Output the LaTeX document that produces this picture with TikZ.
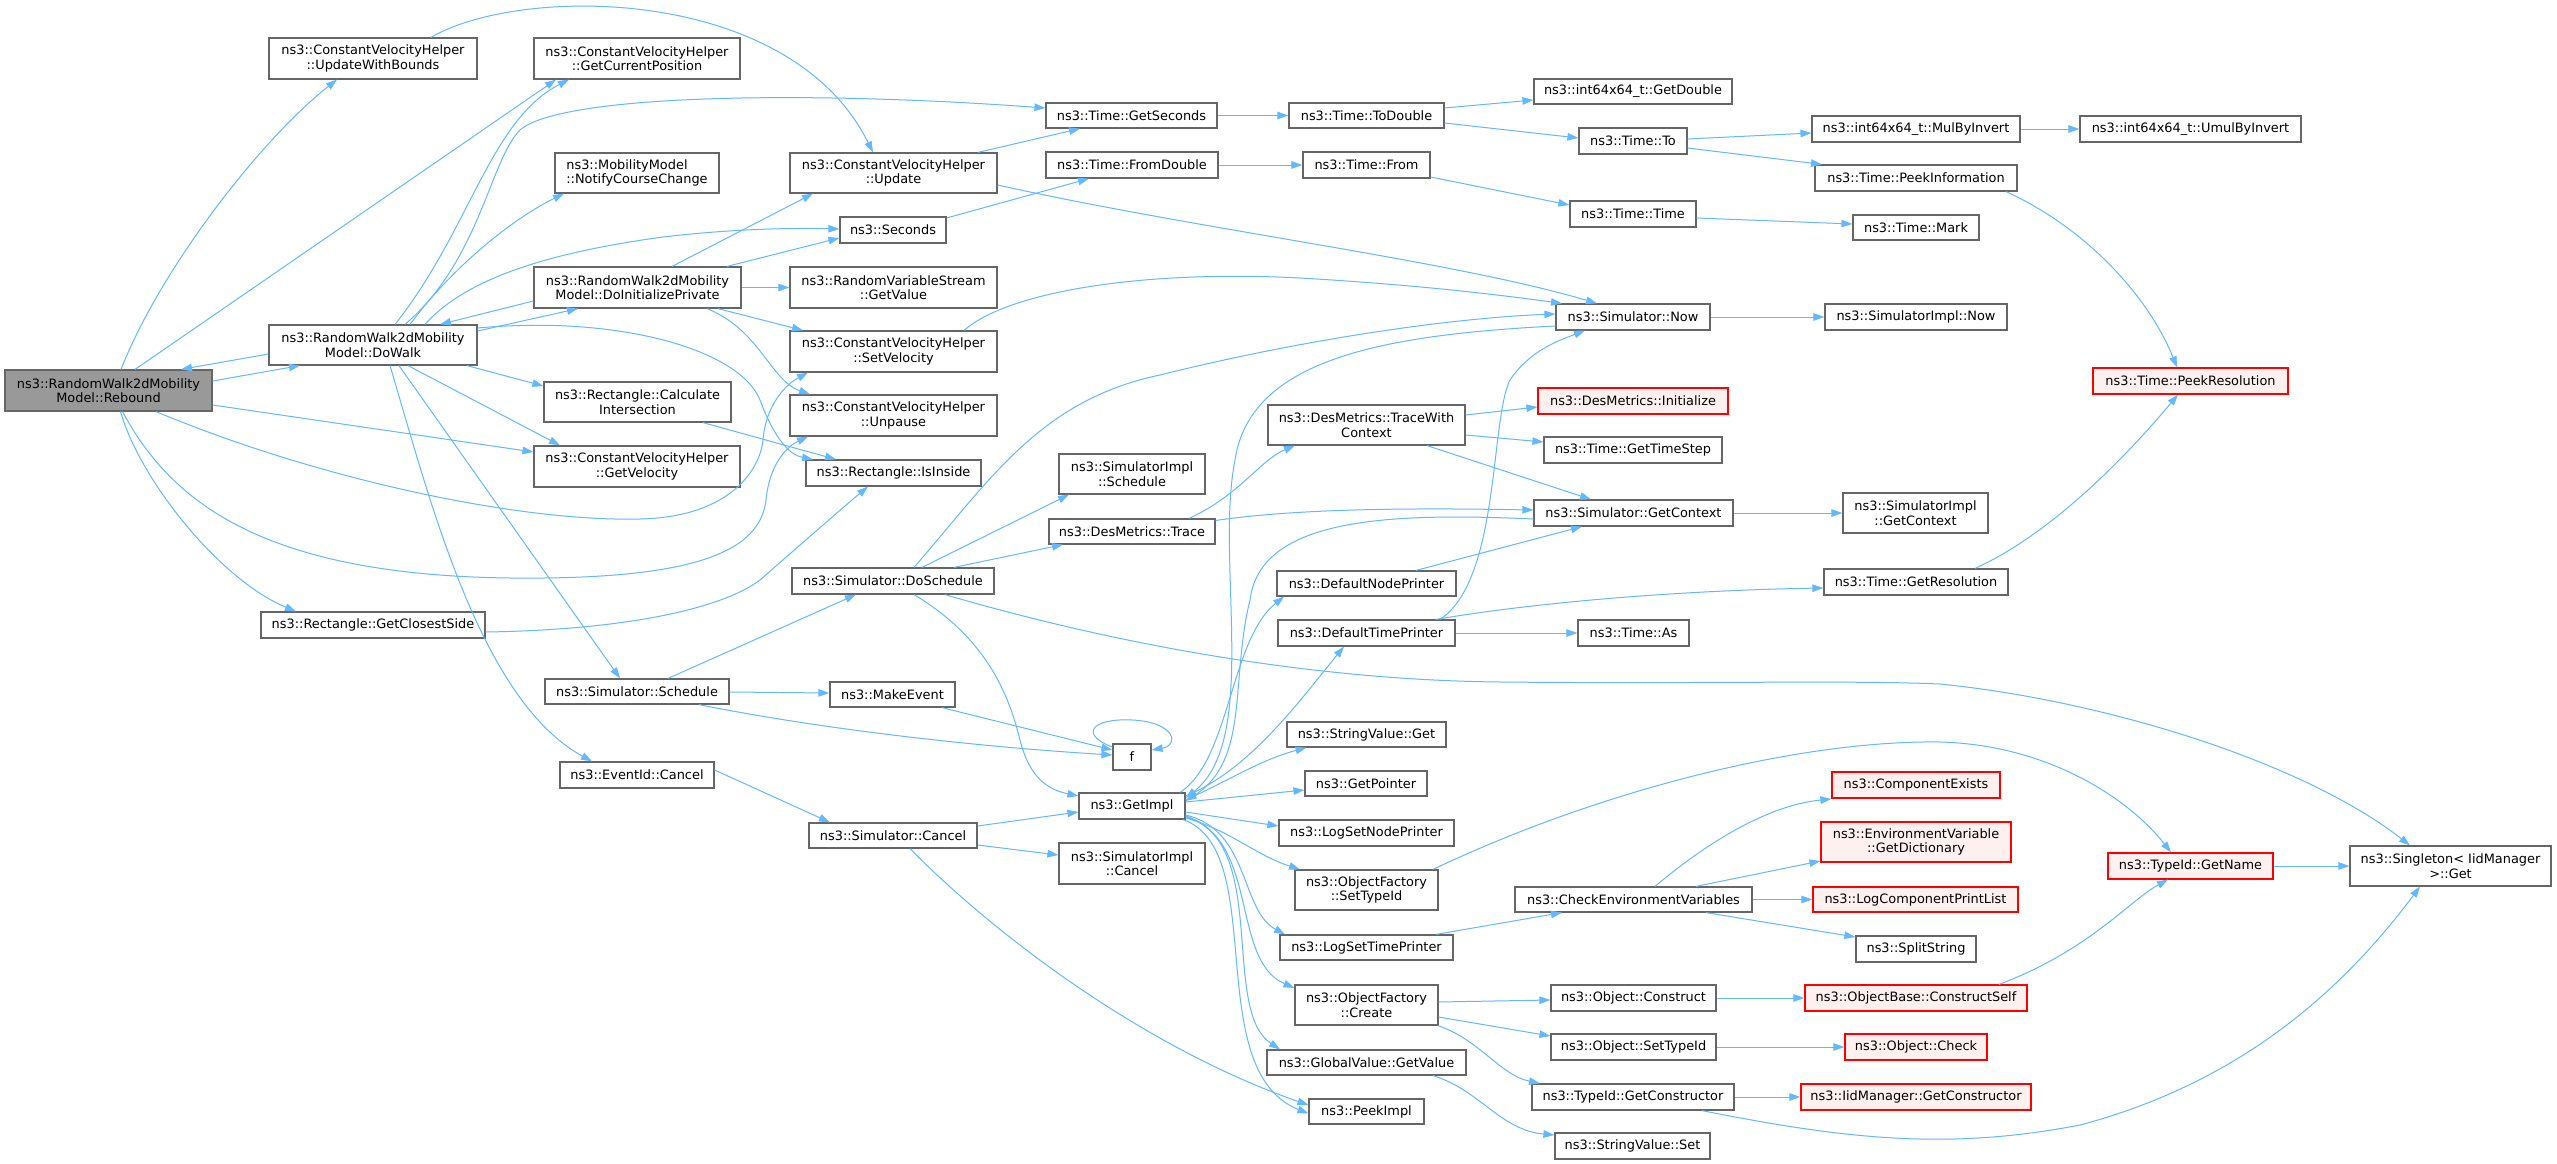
\documentclass[tikz,border=0pt]{standalone}
\usepackage{fontspec}
\setmainfont{DejaVu Sans}
\usetikzlibrary{arrows.meta}
\definecolor{edgec}{HTML}{63B8FF}
\definecolor{boxc}{HTML}{666666}
\definecolor{rootc}{HTML}{999999}
\definecolor{redfill}{HTML}{FFF0F0}
\definecolor{redline}{HTML}{FF0000}
\tikzset{
  nbox/.style={draw=boxc, line width=1.2pt, fill=white, inner sep=0pt, align=center, text=black,
    font={\fontsize{12.9}{14.5}\selectfont}},
  rootbox/.style={nbox, fill=rootc},
  redbox/.style={nbox, draw=redline, fill=redfill},
  e/.style={draw=edgec, line width=1pt, -{Triangle[length=11pt,width=7.5pt]}},
}
\newcommand\NB[7][nbox]{\node[#1, minimum width=#5pt, minimum height=#6pt] (#2) at (#3,#4) {#7};}
\begin{document}
\begin{tikzpicture}[x=1pt,y=-1pt]
\fill[white] (0,0) rectangle (2557,1164);
\useasboundingbox (0,0) rectangle (2557,1164);
% ---- nodes
\NB[rootbox]{rebound}{108.5}{390.5}{207}{41}{ns3::RandomWalk2dMobility\\Model::Rebound}
\NB{uwb}{373}{58.5}{208}{41}{ns3::ConstantVelocityHelper\\::UpdateWithBounds}
\NB{gcp}{637}{58.5}{206}{41}{ns3::ConstantVelocityHelper\\::GetCurrentPosition}
\NB[nbox,align=left]{ncc}{637}{173}{164}{40}{ns3::MobilityModel\\::NotifyCourseChange}
\NB{dip}{637.5}{287.5}{207}{41}{ns3::RandomWalk2dMobility\\Model::DoInitializePrivate}
\NB{dowalk}{373}{345}{208}{40}{ns3::RandomWalk2dMobility\\Model::DoWalk}
\NB{calc}{637.5}{402}{187}{40}{ns3::Rectangle::Calculate\\Intersection}
\NB{gvel}{637}{466.5}{206}{41}{ns3::ConstantVelocityHelper\\::GetVelocity}
\NB{gcs}{373}{625}{224}{26}{ns3::Rectangle::GetClosestSide}
\NB{sched}{637}{691.5}{184}{25}{ns3::Simulator::Schedule}
\NB{evc}{637}{775}{154}{26}{ns3::EventId::Cancel}
\NB{gsec}{1131.5}{115.5}{171}{25}{ns3::Time::GetSeconds}
\NB{todbl}{1366.5}{115.5}{155}{25}{ns3::Time::ToDouble}
\NB{getdbl}{1633}{91.5}{198}{25}{ns3::int64x64\_t::GetDouble}
\NB{to}{1633}{141}{108}{26}{ns3::Time::To}
\NB{upd}{893.5}{173}{207}{40}{ns3::ConstantVelocityHelper\\::Update}
\NB{fromdbl}{1132}{165}{172}{26}{ns3::Time::FromDouble}
\NB{from}{1366.5}{165}{127}{26}{ns3::Time::From}
\NB{ttime}{1633}{214}{126}{26}{ns3::Time::Time}
\NB{secs}{893}{230}{106}{26}{ns3::Seconds}
\NB{rvs}{893.5}{287.5}{207}{41}{ns3::RandomVariableStream\\::GetValue}
\NB{svel}{893.5}{351.5}{207}{41}{ns3::ConstantVelocityHelper\\::SetVelocity}
\NB{unp}{893.5}{415.5}{207}{41}{ns3::ConstantVelocityHelper\\::Unpause}
\NB{now}{1633}{317}{154}{26}{ns3::Simulator::Now}
\NB{mulinv}{1916}{129}{208}{26}{ns3::int64x64\_t::MulByInvert}
\NB{umul}{2190.5}{129}{221}{26}{ns3::int64x64\_t::UmulByInvert}
\NB{peekinfo}{1916}{178}{202}{26}{ns3::Time::PeekInformation}
\NB{mark}{1916}{227.5}{126}{25}{ns3::Time::Mark}
\NB{simpnow}{1916}{317}{182}{26}{ns3::SimulatorImpl::Now}
\NB[redbox]{peekres}{2190.5}{381}{195}{26}{ns3::Time::PeekResolution}
\NB[redbox]{dminit}{1633}{401}{190}{26}{ns3::DesMetrics::Initialize}
\NB{isin}{893.5}{473}{175}{26}{ns3::Rectangle::IsInside}
\NB{simpsched}{1132}{474}{146}{40}{ns3::SimulatorImpl\\::Schedule}
\NB{trace}{1132}{531.5}{166}{25}{ns3::DesMetrics::Trace}
\NB{dosched}{893}{581}{202}{26}{ns3::Simulator::DoSchedule}
\NB{twc}{1366.5}{425}{197}{40}{ns3::DesMetrics::TraceWith\\Context}
\NB{gts}{1633}{450}{178}{26}{ns3::Time::GetTimeStep}
\NB{gctx}{1633.5}{513}{199}{26}{ns3::Simulator::GetContext}
\NB{simpgctx}{1915.5}{513}{145}{40}{ns3::SimulatorImpl\\::GetContext}
\NB{dnp}{1366.5}{583.5}{179}{25}{ns3::DefaultNodePrinter}
\NB{dtp}{1366.5}{633}{177}{26}{ns3::DefaultTimePrinter}
\NB{gres}{1916}{582}{184}{26}{ns3::Time::GetResolution}
\NB{tas}{1633.5}{633}{111}{26}{ns3::Time::As}
\NB{mkev}{892.5}{694.5}{125}{25}{ns3::MakeEvent}
\NB{f}{1132}{757}{38}{26}{f}
\NB{svget}{1366.5}{734.5}{159}{25}{ns3::StringValue::Get}
\NB{gptr}{1366}{783.5}{122}{25}{ns3::GetPointer}
\NB{getimpl}{1132}{806}{106}{26}{ns3::GetImpl}
\NB{scancel}{893}{835.5}{168}{25}{ns3::Simulator::Cancel}
\NB{simpcancel}{1132}{863.5}{146}{41}{ns3::SimulatorImpl\\::Cancel}
\NB{lsnp}{1366.5}{833}{175}{26}{ns3::LogSetNodePrinter}
\NB{ofst}{1366.5}{890}{143}{40}{ns3::ObjectFactory\\::SetTypeId}
\NB{lstp}{1366.5}{947.5}{173}{25}{ns3::LogSetTimePrinter}
\NB{ofc}{1366.5}{1005}{143}{40}{ns3::ObjectFactory\\::Create}
\NB{gvget}{1366.5}{1062.5}{199}{25}{ns3::GlobalValue::GetValue}
\NB{peekimpl}{1366.5}{1111.5}{115}{25}{ns3::PeekImpl}
\NB{cev}{1633.5}{899.5}{237}{25}{ns3::CheckEnvironmentVariables}
\NB[redbox]{compex}{1916}{785}{168}{26}{ns3::ComponentExists}
\NB[redbox]{envdict}{1916}{842}{190}{40}{ns3::EnvironmentVariable\\::GetDictionary}
\NB[redbox]{lcpl}{1915.5}{899.5}{205}{25}{ns3::LogComponentPrintList}
\NB{split}{1916}{949}{120}{26}{ns3::SplitString}
\NB{oconstruct}{1633.5}{998}{165}{26}{ns3::Object::Construct}
\NB[redbox]{cself}{1916}{998}{222}{26}{ns3::ObjectBase::ConstructSelf}
\NB{osettid}{1633.5}{1047}{165}{26}{ns3::Object::SetTypeId}
\NB[redbox]{ocheck}{1916}{1047}{142}{26}{ns3::Object::Check}
\NB{tidgc}{1633}{1097}{202}{26}{ns3::TypeId::GetConstructor}
\NB[redbox]{iidgc}{1916}{1097}{230}{26}{ns3::IidManager::GetConstructor}
\NB{svset}{1632.5}{1146}{155}{26}{ns3::StringValue::Set}
\NB[redbox]{tidname}{2190.5}{866}{165}{26}{ns3::TypeId::GetName}
\NB{singleton}{2450.5}{866}{201}{40}{ns3::Singleton< IidManager\\>::Get}
% ---- edges: Rebound
\draw[e] ([xshift=12.5pt]rebound.north) .. controls (160,270) and (260,140) .. ([xshift=-36pt]uwb.south);
\draw[e] ([xshift=26.5pt]rebound.north) -- ([xshift=-81pt]gcp.south);
\draw[e] ([yshift=9.5pt]rebound.east) -- ([xshift=-73pt]dowalk.south);
\draw[e] ([yshift=-9pt]dowalk.west) -- ([xshift=72.5pt]rebound.north);
\draw[e] ([yshift=-14.5pt]rebound.east) -- ([yshift=14.5pt]gvel.west);
\draw[e] ([xshift=12pt]rebound.south) .. controls (140,480) and (220,580) .. ([xshift=-77pt]gcs.north);
\draw[e] ([xshift=47.5pt]rebound.south) .. controls (320,480) and (520,522) .. (640,519) .. controls (730,517) and (760,470) .. (763,440) .. controls (766,405) and (785,385) .. ([xshift=-85.5pt]svel.south);
\draw[e] ([xshift=14pt]rebound.south) .. controls (170,500) and (260,575) .. (510,578) .. controls (700,580) and (760,550) .. (766,500) .. controls (770,460) and (790,445) .. ([xshift=-85.5pt]unp.south);
% DoWalk
\draw[e] ([xshift=22pt]dowalk.north) .. controls (470,230) and (490,120) .. ([xshift=-68pt]gcp.south);
\draw[e] ([xshift=32pt]dowalk.north) .. controls (480,260) and (490,160) .. (520,130) .. controls (560,95) and (800,90) .. ([yshift=7.5pt]gsec.west);
\draw[e] ([xshift=37pt]dowalk.north) .. controls (450,270) and (510,220) .. ([xshift=-73pt]ncc.south);
\draw[e] ([xshift=52pt]dowalk.north) .. controls (460,285) and (530,255) .. (663,237) .. controls (740,228) and (800,228) .. ([yshift=1pt]secs.west);
\draw[e] ([yshift=14pt]dowalk.east) -- ([xshift=-59.5pt]dip.south);
\draw[e] ([yshift=-13.5pt]dip.west) -- ([xshift=67pt]dowalk.north);
\draw[e] ([yshift=17pt]dowalk.east) .. controls (620,315) and (740,350) .. (760,400) .. controls (775,440) and (790,455) .. ([xshift=-80.5pt]isin.north);
\draw[e] ([xshift=94pt]dowalk.south) -- ([yshift=16pt]calc.west);
\draw[e] ([xshift=35pt]dowalk.south) -- ([xshift=-77pt]gvel.north);
\draw[e] ([xshift=17pt]dowalk.south) .. controls (430,500) and (480,700) .. ([xshift=-45pt]evc.north);
\draw[e] ([xshift=26pt]dowalk.south) -- ([xshift=-17pt]sched.north);
% helpers
\draw[e] ([xshift=58pt]uwb.north) .. controls (520,-15) and (790,-15) .. ([xshift=-20.5pt]upd.north);
\draw[e] ([xshift=84.5pt]upd.north) -- ([xshift=-51.5pt]gsec.south);
\draw[e] ([yshift=-12pt]upd.east) .. controls (1200,230) and (1450,260) .. ([xshift=-36pt]now.north);
\draw[e] ([xshift=34.5pt]dip.north) -- ([xshift=-80.5pt]upd.south);
\draw[e] ([xshift=89.5pt]dip.north) -- ([yshift=-8pt]secs.west);
\draw[e] (dip.east) -- (rvs.west);
\draw[e] ([xshift=80.5pt]dip.south) -- ([xshift=-90.5pt]svel.north);
\draw[e] ([xshift=69.5pt]dip.south) .. controls (760,330) and (770,380) .. ([xshift=-83.5pt]unp.north);
\draw[e] ([yshift=-7pt]gcs.east) .. controls (620,630) and (720,610) .. (760,580) .. controls (800,545) and (840,510) .. ([xshift=-25.5pt]isin.south);
\draw[e] ([xshift=65.5pt]calc.south) -- ([xshift=-57.5pt]isin.north);
% time
\draw[e] ([yshift=12pt]secs.east) -- ([xshift=-43pt]fromdbl.south);
\draw[e] (gsec.east) -- (todbl.west);
\draw[e] ([yshift=7.5pt]todbl.east) -- ([yshift=-8.5pt]getdbl.west);
\draw[e] ([yshift=-7.5pt]todbl.east) -- ([yshift=3pt]to.west);
\draw[e] ([yshift=2pt]to.east) -- ([yshift=-4pt]mulinv.west);
\draw[e] ([yshift=-7pt]to.east) -- ([xshift=-94pt]peekinfo.north);
\draw[e] (mulinv.east) -- (umul.west);
\draw[e] (fromdbl.east) -- (from.west);
\draw[e] ([yshift=-12pt]from.east) -- ([yshift=9pt]ttime.west);
\draw[e] ([yshift=-4pt]ttime.east) -- ([yshift=3.5pt]mark.west);
\draw[e] (now.east) -- (simpnow.west);
\draw[e] ([xshift=90pt]peekinfo.south) .. controls (2090,230) and (2150,300) .. ([xshift=-13.5pt]peekres.north);
\draw[e] ([xshift=59pt]gres.north) .. controls (2060,530) and (2140,440) .. ([xshift=-12.5pt]peekres.south);
\draw[e] ([xshift=70.5pt]svel.north) .. controls (1010,290) and (1150,270) .. (1300,278) .. controls (1420,285) and (1500,295) .. ([xshift=-71pt]now.north);
% simulator
\draw[e] ([xshift=21pt]dosched.north) .. controls (990,480) and (1040,400) .. (1160,375) .. controls (1300,340) and (1450,318) .. ([yshift=3pt]now.west);
\draw[e] ([xshift=73.5pt]dtp.north) .. controls (1500,580) and (1490,420) .. (1510,380) .. controls (1530,350) and (1560,340) .. ([xshift=-48pt]now.south);
\draw[e] ([yshift=-9pt]now.west) .. controls (1380,335) and (1250,360) .. (1235,460) .. controls (1215,560) and (1260,740) .. ([yshift=8pt]getimpl.east);
\draw[e] ([yshift=-6pt]gctx.west) .. controls (1380,512) and (1260,520) .. (1250,600) .. controls (1230,680) and (1250,760) .. ([yshift=5pt]getimpl.east);
\draw[e] ([xshift=29pt]dosched.north) -- ([xshift=-63pt]simpsched.south);
\draw[e] ([xshift=61pt]dosched.north) -- ([xshift=-69pt]trace.south);
\draw[e] ([xshift=21pt]dosched.south) .. controls (990,640) and (1010,700) .. (1020,740) .. controls (1030,780) and (1050,790) .. ([yshift=10pt]getimpl.west);
\draw[e] ([xshift=52pt]dosched.south) .. controls (1100,640) and (1300,680) .. (1500,682) .. controls (1700,684) and (1850,680) .. (1940,684) .. controls (2100,700) and (2300,760) .. ([xshift=-40.5pt]singleton.north);
\draw[e] ([xshift=57pt]trace.north) .. controls (1240,495) and (1260,460) .. ([xshift=-71.5pt]twc.south);
\draw[e] ([yshift=11pt]trace.east) .. controls (1300,508) and (1420,508) .. ([yshift=3pt]gctx.west);
\draw[e] ([yshift=10pt]twc.east) -- ([yshift=-6pt]dminit.west);
\draw[e] ([yshift=-10pt]twc.east) -- ([yshift=8pt]gts.west);
\draw[e] ([xshift=60.5pt]twc.south) -- ([xshift=-42.5pt]gctx.north);
\draw[e] (gctx.east) -- (simpgctx.west);
\draw[e] ([xshift=49.5pt]dnp.north) -- ([xshift=-51.5pt]gctx.south);
\draw[e] ([xshift=69.5pt]dtp.north) .. controls (1550,600) and (1700,590) .. ([yshift=-6pt]gres.west);
\draw[e] (dtp.east) -- (tas.west);
\draw[e] ([xshift=31pt]sched.north) -- ([xshift=-37pt]dosched.south);
\draw[e] ([yshift=-0.5pt]sched.east) -- ([yshift=1.5pt]mkev.west);
\draw[e] ([xshift=62pt]sched.south) .. controls (800,725) and (950,745) .. ([yshift=2pt]f.west);
\draw[e] ([xshift=49.5pt]mkev.south) -- ([yshift=7pt]f.west);
\draw[e] ([yshift=10pt]f.west) .. controls (1080,735) and (1090,718) .. (1132,720) .. controls (1175,722) and (1180,745) .. ([yshift=7pt]f.east);
\draw[e] ([yshift=5pt]evc.east) -- ([xshift=-63pt]scancel.north);
\draw[e] ([yshift=9.5pt]scancel.east) -- ([yshift=-6pt]getimpl.west);
\draw[e] ([yshift=-9.5pt]scancel.east) -- ([yshift=8.5pt]simpcancel.west);
\draw[e] ([xshift=17pt]scancel.south) .. controls (1000,940) and (1150,1050) .. ([yshift=6.5pt]peekimpl.west);
% GetImpl
\draw[e] ([xshift=48pt]getimpl.north) .. controls (1230,760) and (1230,640) .. ([xshift=-82.5pt]dnp.south);
\draw[e] ([yshift=10pt]getimpl.east) .. controls (1250,770) and (1300,700) .. ([xshift=-22.5pt]dtp.south);
\draw[e] ([yshift=6pt]getimpl.east) .. controls (1230,780) and (1260,760) .. ([xshift=-60pt]svget.south);
\draw[e] ([yshift=4pt]getimpl.east) -- ([yshift=-6.5pt]gptr.west);
\draw[e] ([yshift=-6pt]getimpl.east) -- ([yshift=7pt]lsnp.west);
\draw[e] ([yshift=-12pt]getimpl.east) .. controls (1230,830) and (1255,855) .. ([xshift=-66.5pt]ofst.north);
\draw[e] ([yshift=-9pt]getimpl.east) .. controls (1250,830) and (1240,910) .. ([xshift=-81.5pt]lstp.north);
\draw[e] ([yshift=-10pt]getimpl.east) .. controls (1260,840) and (1230,960) .. ([yshift=17pt]ofc.west);
\draw[e] ([yshift=-11pt]getimpl.east) .. controls (1270,840) and (1220,1010) .. ([xshift=-86.5pt]gvget.north);
\draw[e] ([xshift=51pt]getimpl.south) .. controls (1270,850) and (1200,1070) .. ([yshift=-2pt]peekimpl.west);
% object factory etc.
\draw[e] ([xshift=66.5pt]ofst.north) .. controls (1600,790) and (1800,740) .. (1940,742) .. controls (2050,745) and (2130,800) .. ([xshift=-19.5pt]tidname.north);
\draw[e] ([xshift=69.5pt]lstp.north) -- ([xshift=-71.5pt]cev.south);
\draw[e] ([yshift=3pt]ofc.east) -- ([yshift=-2pt]oconstruct.west);
\draw[e] ([yshift=-12pt]ofc.east) -- ([yshift=11pt]osettid.west);
\draw[e] ([xshift=71.5pt]ofc.south) .. controls (1480,1040) and (1500,1075) .. ([xshift=-93pt]tidgc.north);
\draw[e] ([xshift=66.5pt]gvget.south) .. controls (1480,1090) and (1500,1130) .. ([yshift=11pt]svset.west);
\draw[e] ([xshift=21.5pt]cev.north) .. controls (1710,840) and (1770,805) .. ([yshift=-14pt]compex.west);
\draw[e] ([xshift=62.5pt]cev.north) -- ([yshift=-19pt]envdict.west);
\draw[e] (cev.east) -- (lcpl.west);
\draw[e] ([xshift=72.5pt]cev.south) -- ([yshift=12pt]split.west);
\draw[e] (oconstruct.east) -- (cself.west);
\draw[e] (osettid.east) -- (ocheck.west);
\draw[e] (tidgc.east) -- (iidgc.west);
\draw[e] ([xshift=69pt]tidgc.south) .. controls (1850,1140) and (1950,1150) .. (2080,1125) .. controls (2250,1080) and (2350,980) .. ([xshift=-30.5pt]singleton.south);
\draw[e] ([xshift=83pt]cself.north) .. controls (2090,950) and (2130,900) .. ([xshift=-22.5pt]tidname.south);
\draw[e] (tidname.east) -- (singleton.west);
\end{tikzpicture}
\end{document}
